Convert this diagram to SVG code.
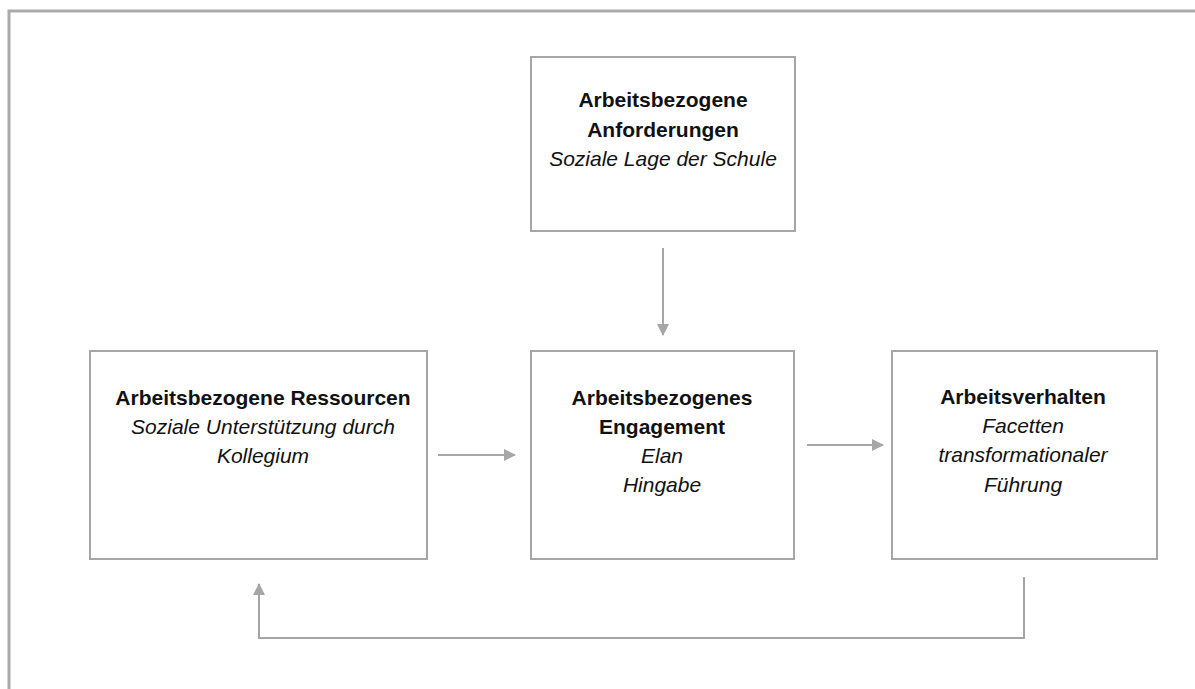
<svg xmlns="http://www.w3.org/2000/svg" width="1195" height="689" viewBox="0 0 1195 689">
<style>
.box{fill:#fff;stroke:#a6a6a6;stroke-width:2}
.conn{fill:none;stroke:#a6a6a6;stroke-width:2}
text{font-family:"Liberation Sans",Arial,sans-serif;font-size:21px;fill:#111;text-anchor:middle}
.b{font-weight:bold}
.i{font-style:italic}
</style>
<defs>
<marker id="ah" markerWidth="12" markerHeight="12" refX="11" refY="6" orient="auto" markerUnits="userSpaceOnUse">
<path d="M0,0 L12,6 L0,12 Z" fill="#a6a6a6"/>
</marker>
</defs>
<rect width="1195" height="689" fill="#fff"/>
<path d="M9,689 V11 H1195" fill="none" stroke="#aaaaaa" stroke-width="3"/>
<g id="node-anforderungen">
<rect class="box" x="531" y="57" width="264" height="174"/>
<text class="b" x="663" y="107">Arbeitsbezogene</text>
<text class="b" x="663" y="137">Anforderungen</text>
<text class="i" x="663" y="166">Soziale Lage der Schule</text>
</g>
<g id="node-ressourcen">
<rect class="box" x="90" y="351" width="337" height="208"/>
<text class="b" x="263" y="405">Arbeitsbezogene Ressourcen</text>
<text class="i" x="263" y="434">Soziale Unterstützung durch</text>
<text class="i" x="263" y="463">Kollegium</text>
</g>
<g id="node-engagement">
<rect class="box" x="531" y="351" width="263" height="208"/>
<text class="b" x="662" y="405">Arbeitsbezogenes</text>
<text class="b" x="662" y="434">Engagement</text>
<text class="i" x="662" y="463">Elan</text>
<text class="i" x="662" y="492">Hingabe</text>
</g>
<g id="node-verhalten">
<rect class="box" x="892" y="351" width="265" height="208"/>
<text class="b" x="1023" y="404">Arbeitsverhalten</text>
<text class="i" x="1023" y="433">Facetten</text>
<text class="i" x="1023" y="462">transformationaler</text>
<text class="i" x="1023" y="492">Führung</text>
</g>
<g id="connectors">
<path class="conn" d="M663,248 V335" marker-end="url(#ah)"/>
<path class="conn" d="M438,455 H515" marker-end="url(#ah)"/>
<path class="conn" d="M807,445 H883" marker-end="url(#ah)"/>
<path class="conn" d="M1024,577 V638 H259 V584" marker-end="url(#ah)"/>
</g>
</svg>
